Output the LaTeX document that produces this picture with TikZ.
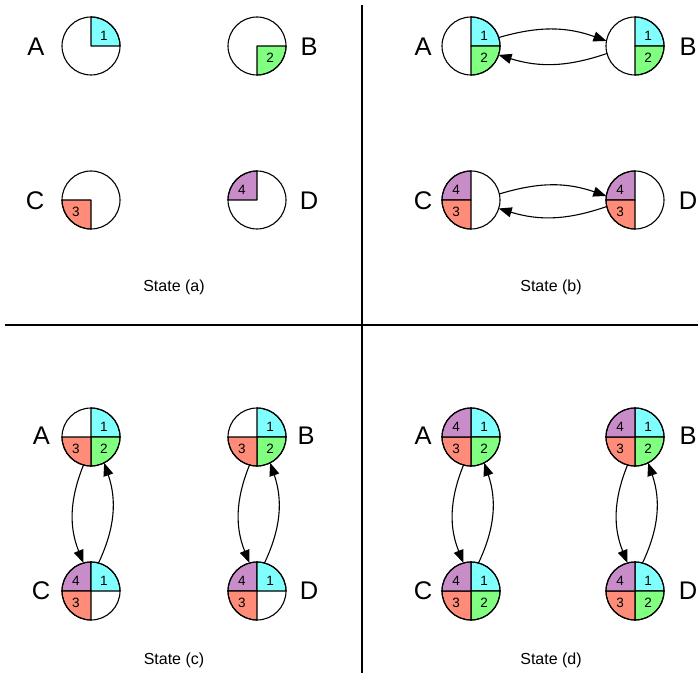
\documentclass[tikz,border=0pt]{standalone}
\usepackage{fontspec}
\setmainfont{Liberation Sans}
\usetikzlibrary{calc,arrows.meta}
\definecolor{qone}{RGB}{128,255,255}
\definecolor{qtwo}{RGB}{128,255,128}
\definecolor{qthree}{RGB}{255,140,120}
\definecolor{qfour}{RGB}{200,140,200}
\tikzset{
  qline/.style={line width=1.1pt,line join=round},
  st/.style={circle,minimum size=58pt,inner sep=0pt,outer sep=0pt},
  numlbl/.style={font=\fontsize{13.5}{13.5}\selectfont,inner sep=0pt},
  biglbl/.style={font=\fontsize{25.5}{25.5}\selectfont,inner sep=0pt},
  statelbl/.style={font=\fontsize{16}{16}\selectfont,inner sep=0pt},
  arr/.style={line width=1.1pt,-{Triangle[length=13pt,width=10pt]}},
  divider/.style={line width=1.1pt}
}
\newcommand\qdrx[5]{%
  \filldraw[fill=#3,qline] (#1.center) -- ++(#2:29pt) arc[start angle=#2,delta angle=90,radius=29pt] -- cycle;
  \node[numlbl] at ($(#1.center)+(#5)$) {#4};}
\newcommand\qdr[2]{%
  \ifcase#2\or\qdrx{#1}{0}{qone}{1}{13,10}\or\qdrx{#1}{270}{qtwo}{2}{13,-12}\or\qdrx{#1}{180}{qthree}{3}{-15,-12}\or\qdrx{#1}{90}{qfour}{4}{-15,10}\fi}
\newcommand\rim[1]{\draw[qline] (#1.center) circle[radius=29pt];}
\begin{document}
\begin{tikzpicture}[x=1pt,y=1pt]
\fill[white] (0,0) rectangle (698,673);
\useasboundingbox (0,0) rectangle (698,673);
% dividers
\coordinate (vt) at (362,668);
\coordinate (vb) at (362,0);
\coordinate (hl) at (5,348);
\coordinate (hr) at (698,348);
\draw[divider] (vt) -- (vb);
\draw[divider] (hl) -- (hr);
% state nodes
\foreach \n/\x/\y in {Aa/91/627,Ba/257/627,Ca/91/473,Da/257/473,
                      Ab/471/627,Bb/635/627,Cb/471/473,Db/635/473,
                      Ac/91/236,Bc/257/236,Cc/91/82,Dc/257/82,
                      Ad/471/236,Bd/635/236,Cd/471/82,Dd/635/82}
  {\node[st] (\n) at (\x,\y) {};}
% state (a)
\qdr{Aa}{1}\rim{Aa}
\qdr{Ba}{2}\rim{Ba}
\qdr{Ca}{3}\rim{Ca}
\qdr{Da}{4}\rim{Da}
% state (b)
\qdr{Ab}{1}\qdr{Ab}{2}\rim{Ab}
\qdr{Bb}{1}\qdr{Bb}{2}\rim{Bb}
\qdr{Cb}{4}\qdr{Cb}{3}\rim{Cb}
\qdr{Db}{4}\qdr{Db}{3}\rim{Db}
% state (c)
\qdr{Ac}{1}\qdr{Ac}{2}\qdr{Ac}{3}\rim{Ac}
\qdr{Bc}{1}\qdr{Bc}{2}\qdr{Bc}{3}\rim{Bc}
\qdr{Cc}{4}\qdr{Cc}{1}\qdr{Cc}{3}\rim{Cc}
\qdr{Dc}{4}\qdr{Dc}{1}\qdr{Dc}{3}\rim{Dc}
% state (d)
\foreach \n in {Ad,Bd,Cd,Dd}{\qdr{\n}{1}\qdr{\n}{2}\qdr{\n}{3}\qdr{\n}{4}\rim{\n}}
% letters
\node[biglbl] (la1) at (36,626) {A};
\node[biglbl] (lb1) at (309,626) {B};
\node[biglbl] (lc1) at (35,472) {C};
\node[biglbl] (ld1) at (309,472) {D};
\node[biglbl] (la2) at (423,626) {A};
\node[biglbl] (lb2) at (688,626) {B};
\node[biglbl] (lc2) at (423,472) {C};
\node[biglbl] (ld2) at (688,472) {D};
\node[biglbl] (la3) at (41.5,237) {A};
\node[biglbl] (lb3) at (306,237) {B};
\node[biglbl] (lc3) at (41,82) {C};
\node[biglbl] (ld3) at (309,82) {D};
\node[biglbl] (la4) at (423,237) {A};
\node[biglbl] (lb4) at (688,237) {B};
\node[biglbl] (lc4) at (423,82) {C};
\node[biglbl] (ld4) at (688,82) {D};
% state captions
\node[statelbl] (sa) at (174,386) {State (a)};
\node[statelbl] (sb) at (551,386) {State (b)};
\node[statelbl] (sc) at (174,13) {State (c)};
\node[statelbl] (sd) at (551,13) {State (d)};
% arrows state (b)
\draw[arr] (Ab.17) to[bend left=18] (Bb.170);
\draw[arr] (Bb.195) to[bend left=18] (Ab.342);
\draw[arr] (Cb.12) to[bend left=18] (Db.172);
\draw[arr] (Db.193) to[bend left=18] (Cb.343);
% arrows state (c) and (d)
\foreach \u/\l in {Ac/Cc,Bc/Dc,Ad/Cd,Bd/Dd}{
  \draw[arr] (\u.255) to[bend right=22] (\l.105);
  \draw[arr] (\l.75) to[bend right=22] (\u.297);
}
\end{tikzpicture}
\end{document}
